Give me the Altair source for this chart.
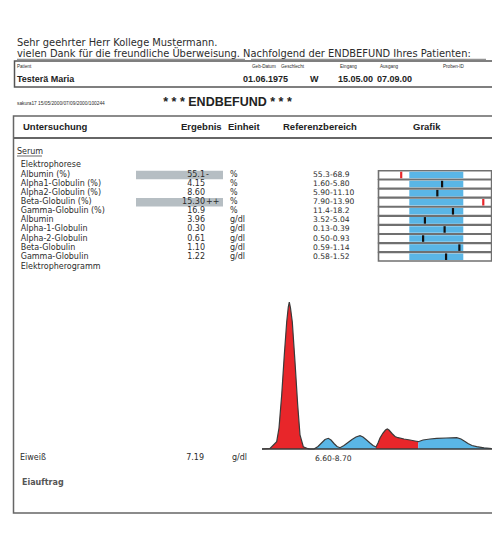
import altair as alt
import pandas as pd

# ---------------- data ----------------
greeting = "Sehr geehrter Herr Kollege Mustermann."
intro_a = "vielen Dank für die freundliche Überweisung."
intro_b = "Nachfolgend der ENDBEFUND Ihres Patienten:"
patient_labels = ["Patient", "Geb-Datum", "Geschlecht", "Eingang", "Ausgang", "Proben-ID"]
patient_values = ["Testerä Maria", "01.06.1975", "W", "15.05.00", "07.09.00"]
report_id = "sakura17 15/05/2000/07/09/2000/100244"
title = "* * * ENDBEFUND * * *"
headers = ["Untersuchung", "Ergebnis", "Einheit", "Referenzbereich", "Grafik"]
section = "Serum"
group_a = "Elektrophorese"
group_b = "Elektropherogramm"

tests = ["Albumin (%)", "Alpha1-Globulin (%)", "Alpha2-Globulin (%)", "Beta-Globulin (%)",
         "Gamma-Globulin (%)", "Albumin", "Alpha-1-Globulin", "Alpha-2-Globulin",
         "Beta-Globulin", "Gamma-Globulin"]
results = [55.1, 4.15, 8.60, 15.30, 16.9, 3.96, 0.30, 0.61, 1.10, 1.22]
result_text = ["55.1", "4.15", "8.60", "15.30", "16.9", "3.96", "0.30", "0.61", "1.10", "1.22"]
flags = ["-", "", "", "++", "", "", "", "", "", ""]
units = ["%", "%", "%", "%", "%", "g/dl", "g/dl", "g/dl", "g/dl", "g/dl"]
ref_lo = [55.3, 1.60, 5.90, 7.90, 11.4, 3.52, 0.13, 0.50, 0.59, 0.58]
ref_hi = [68.9, 5.80, 11.10, 13.90, 18.2, 5.04, 0.39, 0.93, 1.14, 1.52]
ref_text = ["55.3-68.9", "1.60-5.80", "5.90-11.10", "7.90-13.90", "11.4-18.2",
            "3.52-5.04", "0.13-0.39", "0.50-0.93", "0.59-1.14", "0.58-1.52"]

protein_name = "Eiweiß"
protein_value = "7.19"
protein_unit = "g/dl"
protein_ref = "6.60-8.70"
footer_label = "Eiauftrag"

# electropherogram (mobility, density) per fraction
alb_m = [0, 8, 14.7, 17, 19.7, 22.3, 24.7, 26.3, 27.3, 28.5, 30.3, 33, 35.7, 38, 41.3, 46, 48]
alb_d = [0, 0.5, 7.3, 21, 54, 94, 127, 142, 147, 141, 127, 87, 44, 14, 2.3, 0.3, 0]
alpha_m = [52, 56, 60, 63, 66.3, 69, 72, 75, 78, 82, 86, 90, 94, 98, 101, 104, 108, 111, 114]
alpha_d = [0, 2.5, 6.5, 9.5, 10.7, 9, 5.5, 2.5, 1.3, 3.5, 6.5, 9.5, 12, 13.3, 12, 9.5, 6, 3.5, 2]
beta_m = [114, 116, 118, 121, 123.5, 125.3, 127, 130, 133, 136, 142, 148, 153, 156.3]
beta_d = [2, 6, 11, 16, 19, 20, 19, 15.5, 12.5, 11.3, 10, 9, 8, 7.3]
gamma_m = [156.3, 161, 168, 174.7, 184, 194.7, 199, 203, 206, 210, 214.7, 222, 229.7]
gamma_d = [7.3, 9, 10, 10.7, 11, 11.3, 10, 7.5, 5.5, 3.5, 2.3, 1.2, 0.5]
fractions = ["Albumin", "Alpha", "Beta", "Gamma"]

# ---------------- tables ----------------
def marker_pos(v, lo, hi):
    if v < lo:
        return -0.15
    if v > hi:
        return 1.37
    return (v - lo) / (hi - lo)

rows = pd.DataFrame({
    "row": list(range(len(tests))),
    "test": tests,
    "res": result_text,
    "flag": flags,
    "unit": units,
    "ref": ref_text,
    "pos": [marker_pos(v, lo, hi) for v, lo, hi in zip(results, ref_lo, ref_hi)],
})

parts = []
for name, ms, ds in zip(fractions, [alb_m, alpha_m, beta_m, gamma_m], [alb_d, alpha_d, beta_d, gamma_d]):
    parts.append(pd.DataFrame({"m": ms, "d": ds, "frac": name}))
electro = pd.concat(parts, ignore_index=True)
outline = electro.drop_duplicates(subset=["m"]).sort_values("m")[["m", "d"]]

# ---------------- styles ----------------
FONT = "Liberation Sans"
WIDE = "DejaVu Sans"
TXT = "#2c2c2c"
FRAME = "#666666"
RED = "#e8262a"
BLUE = "#5ab6e6"
HILITE = "#b6bec3"


def label(s, x, y, size=9.0, bold=False, align="left", font=FONT, color=TXT):
    return alt.Chart(pd.DataFrame({"t": [s]})).mark_text(
        align=align, baseline="middle", fontSize=size,
        fontWeight="bold" if bold else "normal", font=font, color=color
    ).encode(x=alt.value(x), y=alt.value(y), text="t:N")


def hline(x1, x2, y, w=1.0, color=FRAME):
    return alt.Chart(pd.DataFrame({"a": [0]})).mark_rule(strokeWidth=w, color=color).encode(
        x=alt.value(x1), x2=alt.value(x2), y=alt.value(y))


def frame(x1, x2, y1, y2, w=1.5, color=FRAME):
    return alt.Chart(pd.DataFrame({"a": [0]})).mark_rect(
        fill="white", fillOpacity=0, stroke=color, strokeWidth=w
    ).encode(x=alt.value(x1), x2=alt.value(x2), y=alt.value(y1), y2=alt.value(y2))


static = [
    label(greeting, 9, 35, 9.9, font=WIDE),
    label(intro_a + "  " + intro_b, 9, 46, 9.9, font=WIDE),
    hline(9, 237, 51.3, 0.8, "#555"),
    hline(243, 478, 51.3, 0.8, "#555"),
    frame(6.5, 492, 53, 79, 1.5, "#555"),
]
for s, x in zip(patient_labels, [9, 244, 273, 332, 372, 435]):
    static.append(label(s, x, 58.5, 4.6))
for s, x in zip(patient_values, [9, 235, 302, 330, 369]):
    static.append(label(s, x, 71.3, 9, bold=True, color="#222"))
static += [
    label(report_id, 9, 96, 4.8),
    label(title, 219.5, 94, 12.5, bold=True, align="center", color="#222"),
    frame(5.5, 492, 108, 505, 1.5),
    hline(5.5, 492, 130, 2.0),
]
for s, x in zip(headers, [15, 173, 220, 275, 405]):
    static.append(label(s, x, 119, 9.5, bold=True, color="#222"))
static += [
    label(section, 9, 143.7, 8, font=WIDE),
    hline(9, 34, 148, 0.8, "#444"),
    label(group_a, 12.7, 157, 8, font=WIDE),
    label(group_b, 12.7, 258.7, 8, font=WIDE),
    label(protein_name, 12, 450, 8, font=WIDE),
    label(protein_value, 196, 450, 8, align="right", font=WIDE),
    label(protein_unit, 224, 450, 8, font=WIDE),
    label(protein_ref, 307, 450.5, 7.6, font=WIDE),
    label(footer_label, 14, 475, 8, bold=True, font=WIDE, color="#555"),
]

# ---------------- result table ----------------
row_scale = alt.Scale(domain=[0, 9], range=[167, 248.7])
pos_scale = alt.Scale(domain=[-0.574, 1.537], range=[370.3, 484.3])
base = alt.Chart(rows).transform_calculate(
    b0="datum.row - 0.47", b1="datum.row + 0.47",
    c0="datum.row - 0.36", c1="datum.row + 0.36",
)
Yrow = lambda f: alt.Y(f, scale=row_scale, axis=None)

hilite = base.transform_filter("datum.flag != ''").mark_rect(color=HILITE).encode(
    x=alt.value(128), x2=alt.value(215), y=Yrow("b0:Q"), y2="b1:Q")
text_kw = dict(baseline="middle", fontSize=8, font=WIDE, color=TXT)
names = base.mark_text(align="left", **text_kw).encode(x=alt.value(12.7), y=Yrow("row:Q"), text="test:N")
vals = base.mark_text(align="right", **text_kw).encode(x=alt.value(197), y=Yrow("row:Q"), text="res:N")
flg = base.mark_text(align="left", **text_kw).encode(x=alt.value(198), y=Yrow("row:Q"), text="flag:N")
unit = base.mark_text(align="left", **text_kw).encode(x=alt.value(222), y=Yrow("row:Q"), text="unit:N")
refs = base.mark_text(align="left", baseline="middle", fontSize=7.6, font=WIDE, color=TXT).encode(
    x=alt.value(305), y=Yrow("row:Q"), text="ref:N")
boxes = base.mark_rect(fill="white", stroke="#707070", strokeWidth=1.6).encode(
    x=alt.value(370.5), x2=alt.value(483.6), y=Yrow("b0:Q"), y2="b1:Q")
band = base.mark_rect(color=BLUE).encode(
    x=alt.X(datum=0, scale=pos_scale, axis=None), x2=alt.X2(datum=1),
    y=Yrow("c0:Q"), y2="c1:Q")
marks = base.mark_rect(width=2.2).encode(
    x=alt.X("pos:Q", scale=pos_scale, axis=None),
    y=Yrow("c0:Q"), y2="c1:Q",
    color=alt.condition("datum.pos < 0 || datum.pos > 1", alt.value(RED), alt.value("#111111")),
)
table = alt.layer(hilite, names, vals, flg, unit, refs, boxes, band, marks)

# ---------------- electropherogram ----------------
ex = alt.Scale(domain=[0, 230], range=[254, 484])
ey = alt.Scale(domain=[0, 150], range=[441, 291])
areas = alt.Chart(electro).mark_area(opacity=1).encode(
    x=alt.X("m:Q", scale=ex, axis=None),
    y=alt.Y("d:Q", scale=ey, axis=None, stack=None),
    color=alt.Color("frac:N", scale=alt.Scale(domain=fractions, range=[RED, BLUE, RED, BLUE]), legend=None),
)
line = alt.Chart(outline).mark_line(color="#3a3a3a", strokeWidth=1.2).encode(
    x=alt.X("m:Q", scale=ex, axis=None), y=alt.Y("d:Q", scale=ey, axis=None))
baseline = alt.Chart(pd.DataFrame({"a": [0]})).mark_rule(color="#3a3a3a", strokeWidth=1.3).encode(
    x=alt.X(datum=0, scale=ex, axis=None), x2=alt.X2(datum=230),
    y=alt.Y(datum=0, scale=ey, axis=None))
electro_chart = alt.layer(areas, line, baseline)

chart = alt.layer(*static, table, electro_chart).resolve_scale(
    x="independent", y="independent", color="independent"
).properties(
    width=484, height=512, padding=0, background="white",
    autosize=alt.AutoSizeParams(type="none"),
).configure_view(stroke=None)

chart.save("out.html", embed_options={"renderer": "svg", "actions": False})
